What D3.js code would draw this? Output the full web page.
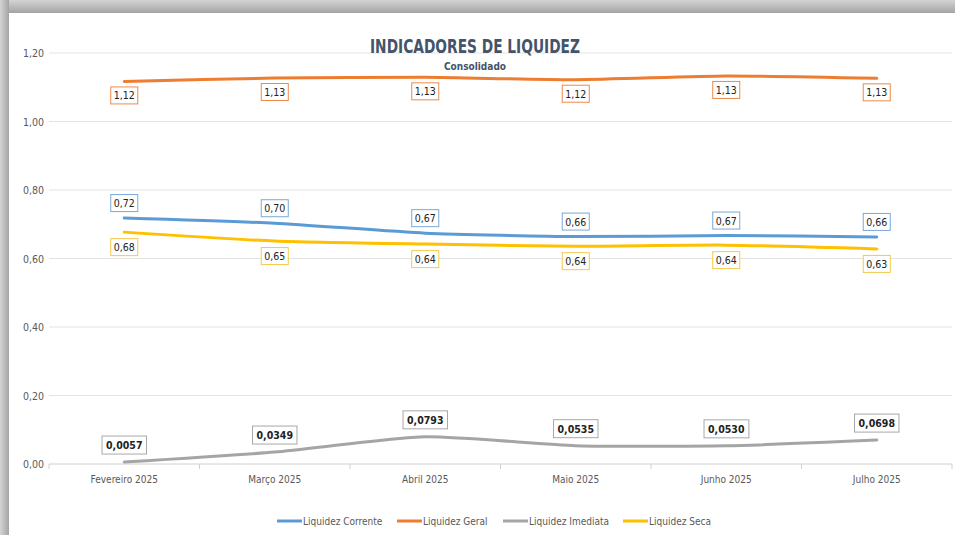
<!DOCTYPE html>
<html><head><meta charset="utf-8">
<script src="https://cdn.jsdelivr.net/npm/d3@7"></script>
<style>
html,body{margin:0;padding:0;background:#fff;}
svg{display:block;}
</style></head>
<body>
<svg id="c" width="955" height="535"></svg>
<script>
const categories = ["Fevereiro 2025","Março 2025","Abril 2025","Maio 2025","Junho 2025","Julho 2025"];
const corrente = [0.718, 0.703, 0.674, 0.664, 0.667, 0.663];
const geral    = [1.117, 1.127, 1.129, 1.122, 1.133, 1.126];
const imediata = [0.0057, 0.0349, 0.0793, 0.0535, 0.0530, 0.0698];
const seca     = [0.677, 0.651, 0.642, 0.636, 0.639, 0.628];
const correnteLabels = ["0,72","0,70","0,67","0,66","0,67","0,66"];
const geralLabels    = ["1,12","1,13","1,13","1,12","1,13","1,13"];
const imediataLabels = ["0,0057","0,0349","0,0793","0,0535","0,0530","0,0698"];
const secaLabels     = ["0,68","0,65","0,64","0,64","0,64","0,63"];
const yTicks = [0, 0.2, 0.4, 0.6, 0.8, 1.0, 1.2];
const yTickLabels = ["0,00","0,20","0,40","0,60","0,80","1,00","1,20"];
const seriesNames = ["Liquidez Corrente","Liquidez Geral","Liquidez Imediata","Liquidez Seca"];

const FONT = "'Liberation Sans Narrow','DejaVu Sans Condensed','Open Sans',sans-serif";
const svg = d3.select("#c");

// frame shadow
const defs = svg.append("defs");
const gt = defs.append("linearGradient").attr("id","gt").attr("x1",0).attr("y1",0).attr("x2",0).attr("y2",1);
gt.append("stop").attr("offset","0%").attr("stop-color","#d4d4d4");
gt.append("stop").attr("offset","100%").attr("stop-color","#a4a4a4");
const gl = defs.append("linearGradient").attr("id","gl").attr("x1",0).attr("y1",0).attr("x2",1).attr("y2",0);
gl.append("stop").attr("offset","0%").attr("stop-color","#d4d4d4");
gl.append("stop").attr("offset","100%").attr("stop-color","#a4a4a4");
svg.append("rect").attr("x",0).attr("y",0).attr("width",955).attr("height",13).attr("fill","url(#gt)");
svg.append("rect").attr("x",0).attr("y",0).attr("width",9).attr("height",535).attr("fill","url(#gl)");

const x = d3.scaleBand().domain(categories).range([49, 952]);
const y = d3.scaleLinear().domain([0, 1.2]).range([464, 53]);

// gridlines
svg.append("g").selectAll("line").data(yTicks).join("line")
  .attr("x1",49).attr("x2",952)
  .attr("y1",d=>y(d)).attr("y2",d=>y(d))
  .attr("stroke",d=>d===0?"#d0d0d0":"#e3e3e3").attr("stroke-width",1);

// x-axis tick marks
const tickXs = [49].concat(categories.slice(1).map(d=>x(d))).concat([952]);
svg.append("g").selectAll("line").data(tickXs).join("line")
  .attr("x1",d=>d).attr("x2",d=>d).attr("y1",464).attr("y2",469)
  .attr("stroke","#d0d0d0");

// y tick labels
svg.append("g").selectAll("text").data(yTicks).join("text")
  .attr("x",44).attr("y",d=>y(d)+4).attr("text-anchor","end")
  .attr("font-family",FONT).attr("font-size",10.5).attr("fill","#595959")
  .text((d,i)=>yTickLabels[i]);

// x labels
svg.append("g").selectAll("text").data(categories).join("text")
  .attr("x",d=>x(d)+x.bandwidth()/2).attr("y",483).attr("text-anchor","middle")
  .attr("font-family",FONT).attr("font-size",10).attr("fill","#595959")
  .text(d=>d);

// title
svg.append("text").attr("x",475).attr("y",53).attr("text-anchor","middle")
  .attr("font-family",FONT).attr("font-size",20).attr("font-weight","bold").attr("fill","#44546A")
  .attr("textLength",210).attr("lengthAdjust","spacingAndGlyphs")
  .text("INDICADORES DE LIQUIDEZ");
svg.append("text").attr("x",475).attr("y",70).attr("text-anchor","middle")
  .attr("font-family",FONT).attr("font-size",10).attr("font-weight","bold").attr("fill","#44546A")
  .text("Consolidado");

const series = [
  {name:seriesNames[0], vals:corrente, labels:correnteLabels, color:"#5B9BD5", box:"#7aa9d8", off:-15, bold:false},
  {name:seriesNames[1], vals:geral, labels:geralLabels, color:"#ED7D31", box:"#ee8a4a", off:14, bold:false},
  {name:seriesNames[2], vals:imediata, labels:imediataLabels, color:"#A5A5A5", box:"#a8a8a8", off:-17, bold:true},
  {name:seriesNames[3], vals:seca, labels:secaLabels, color:"#FFC000", box:"#f5c94a", off:15, bold:false}
];

const line = d3.line().x((d,i)=>x(categories[i])+x.bandwidth()/2).y(d=>y(d)).curve(d3.curveCardinal.tension(0.4));

series.forEach(s=>{
  svg.append("path").datum(s.vals).attr("d",line)
    .attr("fill","none").attr("stroke",s.color).attr("stroke-width",3).attr("stroke-linecap","round");
});

// labels
series.forEach(s=>{
  const g = svg.append("g");
  s.vals.forEach((v,i)=>{
    const cx = x(categories[i])+x.bandwidth()/2;
    const cy = y(v)+s.off;
    const t = g.append("text").attr("x",cx).attr("y",cy+4).attr("text-anchor","middle")
      .attr("font-family",FONT).attr("font-size",10.5).attr("font-weight",s.bold?"bold":"normal")
      .attr("fill","#222").text(s.labels[i]);
    const bb = t.node().getBBox();
    const padX = s.bold?4:3, h = s.bold?18:17;
    g.insert("rect","text").attr("x",bb.x-padX).attr("y",cy-h/2).attr("width",bb.width+2*padX).attr("height",h)
      .attr("fill","#fff").attr("stroke",s.box).attr("stroke-width",1);
  });
});

// legend
const legendX = [277, 397, 503, 623];
const lg = svg.append("g");
series.forEach((s,i)=>{
  lg.append("line").attr("x1",legendX[i]).attr("x2",legendX[i]+25).attr("y1",521).attr("y2",521)
    .attr("stroke",s.color).attr("stroke-width",3);
  lg.append("text").attr("x",legendX[i]+26).attr("y",525)
    .attr("font-family",FONT).attr("font-size",10).attr("fill","#595959").text(s.name);
});
</script>
</body></html>
